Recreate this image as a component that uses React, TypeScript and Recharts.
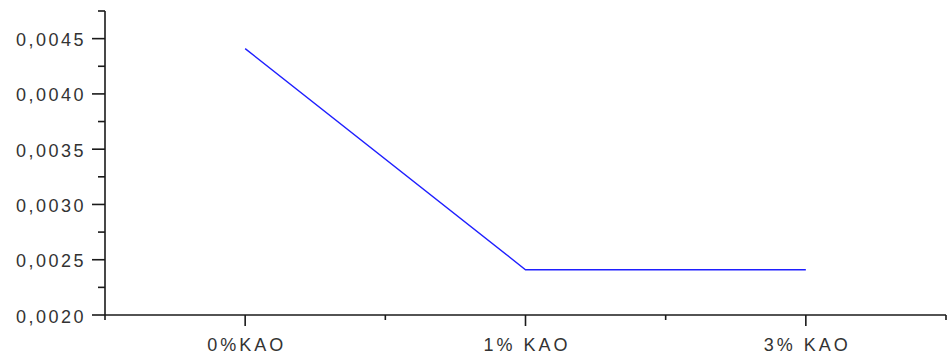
import { LineChart, Line, XAxis, YAxis } from "recharts"

const categories = ["0%KAO", "1% KAO", "3% KAO"]
const values = [0.00441, 0.00241, 0.00241]

// x positions: categories sit at 0,1,2; minor ticks at the halves
const xTicks = [-0.5, 0, 0.5, 1, 1.5, 2, 2.5]
const yTicks = [0.002, 0.00225, 0.0025, 0.00275, 0.003, 0.00325, 0.0035, 0.00375, 0.004, 0.00425, 0.0045, 0.00475]

const data = categories.map((name, i) => ({ idx: i, name, value: values[i] }))

const textStyle = {
  fontFamily: "'Liberation Sans', Arial, sans-serif",
  fontSize: 18,
  letterSpacing: 2.5,
  fill: "#333",
}

const isMajorY = (v) => Math.abs(v / 0.0005 - Math.round(v / 0.0005)) < 1e-6

const YTick = ({ x, y, payload }) => {
  const major = isMajorY(payload.value)
  return (
    <g>
      <line x1={x - (major ? 13 : 7)} x2={x} y1={y} y2={y} stroke="#1a1a1a" strokeWidth={1.6} />
      {major && (
        <text x={x - 19} y={y} dy={7.5} textAnchor="end" style={textStyle}>
          {payload.value.toFixed(4).replace(".", ",")}
        </text>
      )}
    </g>
  )
}

const XTick = ({ x, y, payload }) => {
  const v = payload.value
  const major = Number.isInteger(v)
  return (
    <g>
      <line x1={x} x2={x} y1={y} y2={y + (major ? 11 : 5)} stroke="#1a1a1a" strokeWidth={1.6} />
      {major && (
        <text x={x + 1.5} y={y} dy={35.5} textAnchor="middle" style={{ ...textStyle, letterSpacing: 3 }}>
          {categories[v]}
        </text>
      )}
    </g>
  )
}

export default function App() {
  return (
    <div style={{ position: "absolute", left: 0, top: 0, background: "#fff" }}>
      <LineChart width={947} height={358} data={data} margin={{ top: 11, right: 1, left: 0, bottom: 0 }}>
        <XAxis
          dataKey="idx"
          type="number"
          domain={[-0.5, 2.5]}
          ticks={xTicks}
          interval={0}
          height={43}
          tickSize={0}
          tickMargin={0}
          tickLine={false}
          tick={<XTick />}
          axisLine={{ stroke: "#1a1a1a", strokeWidth: 1.6 }}
        />
        <YAxis
          type="number"
          domain={[0.002, 0.00475]}
          ticks={yTicks}
          interval={0}
          width={105}
          tickSize={0}
          tickMargin={0}
          tickLine={false}
          tick={<YTick />}
          axisLine={{ stroke: "#1a1a1a", strokeWidth: 1.6 }}
          allowDataOverflow
        />
        <Line
          type="linear"
          dataKey="value"
          stroke="#1f1fff"
          strokeWidth={1.4}
          dot={false}
          activeDot={false}
          isAnimationActive={false}
        />
      </LineChart>
    </div>
  )
}
